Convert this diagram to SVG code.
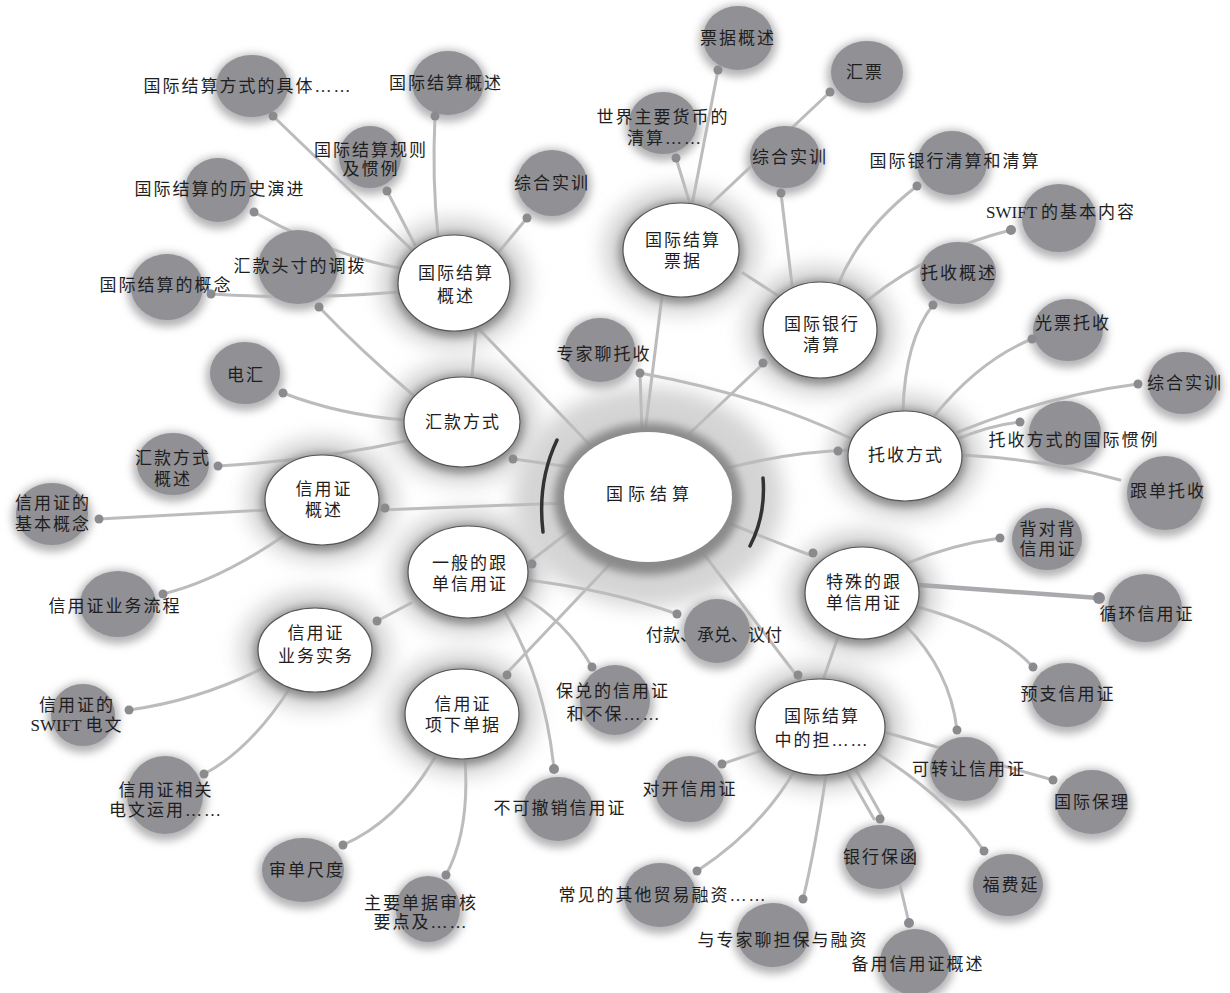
<svg xmlns="http://www.w3.org/2000/svg" width="1230" height="993" viewBox="0 0 1230 993">
<defs>
<filter id="b4" x="-50%" y="-50%" width="200%" height="200%"><feGaussianBlur stdDeviation="4"/></filter>
<filter id="b10" x="-50%" y="-50%" width="200%" height="200%"><feGaussianBlur stdDeviation="10"/></filter>
</defs>
<style>
.ln{stroke:#bcbcbc;stroke-width:3;fill:none;stroke-linecap:round}
.dot{fill:#8b8b8f}
.leaf{fill:#909095}
.lsh{fill:#b4b4b6;filter:url(#b4)}
.halo{fill:#d4d4d4;filter:url(#b10)}
.ring{fill:#8a8a8a;filter:url(#b4)}
.wn{fill:#fff;stroke:#555;stroke-width:1.2}
.t{font-family:"Liberation Serif","Noto Sans CJK SC",serif;font-size:17px;fill:#1e1e1e;text-anchor:middle;letter-spacing:2px}
.tc{font-family:"Liberation Serif","Noto Sans CJK SC",serif;font-size:17px;fill:#1e1e1e;text-anchor:middle;letter-spacing:5px}
.lat{letter-spacing:0}
</style>
<rect width="1230" height="993" fill="#fff"/>

<g id="halos">
<ellipse class="halo" cx="648" cy="497" rx="135" ry="110"/>
<ellipse class="halo" cx="454" cy="283" rx="75" ry="65"/>
<ellipse class="halo" cx="681" cy="250" rx="78" ry="64"/>
<ellipse class="halo" cx="820" cy="330" rx="76" ry="65"/>
<ellipse class="halo" cx="905" cy="456" rx="76" ry="62"/>
<ellipse class="halo" cx="862" cy="593" rx="76" ry="63"/>
<ellipse class="halo" cx="820" cy="727" rx="84" ry="64"/>
<ellipse class="halo" cx="462" cy="714" rx="76" ry="62"/>
<ellipse class="halo" cx="315" cy="650" rx="76" ry="60"/>
<ellipse class="halo" cx="468" cy="572" rx="78" ry="63"/>
<ellipse class="halo" cx="322" cy="500" rx="76" ry="62"/>
<ellipse class="halo" cx="462" cy="422" rx="76" ry="62"/>
</g>

<g id="connectors">
<path class="ln" d="M590,445 L478,328"/>
<path class="ln" d="M645,432 L662,296"/>
<path class="ln" d="M690,433 L765,362"/>
<path class="ln" d="M728,468 Q790,452 850,450"/>
<path class="ln" d="M726,522 Q770,540 810,555"/>
<path class="ln" d="M703,553 L800,680"/>
<path class="ln" d="M612,562 L505,675"/>
<path class="ln" d="M575,527 L528,563"/>
<path class="ln" d="M565,503 L380,510"/>
<path class="ln" d="M577,468 L514,459"/>
<path class="ln" d="M640,373 L642,432"/>
<path class="ln" d="M640,373 Q760,395 850,438"/>
<path class="ln" d="M273,116 L412,250"/>
<path class="ln" d="M387,191 L415,245"/>
<path class="ln" d="M435,116 Q432,180 438,236"/>
<path class="ln" d="M527,218 L498,253"/>
<path class="ln" d="M254,212 Q330,255 399,268"/>
<path class="ln" d="M211,294 Q300,300 399,292"/>
<path class="ln" d="M476,330 L472,377"/>
<path class="ln" d="M319,307 Q360,350 413,395"/>
<path class="ln" d="M718,70 L692,205"/>
<path class="ln" d="M676,158 L690,204"/>
<path class="ln" d="M830,92 L710,205"/>
<path class="ln" d="M743,273 L780,297"/>
<path class="ln" d="M781,193 L792,285"/>
<path class="ln" d="M917,186 Q860,230 838,285"/>
<path class="ln" d="M1011,230 Q930,250 868,300"/>
<path class="ln" d="M933,305 Q905,340 903,411"/>
<path class="ln" d="M935,415 Q980,360 1032,339"/>
<path class="ln" d="M958,432 Q1050,395 1138,384"/>
<path class="ln" d="M955,440 Q990,425 1020,422"/>
<path class="ln" d="M962,455 Q1050,460 1120,480"/>
<path class="ln" d="M908,563 Q950,545 1000,538"/>
<path d="M919,585 L1099,598" stroke="#a9a9ae" stroke-width="4.5" fill="none"/>
<path class="ln" d="M918,607 Q1000,630 1033,667"/>
<path class="ln" d="M905,625 Q950,670 957,730"/>
<path class="ln" d="M838,637 L823,680"/>
<path class="ln" d="M884,732 L1053,780"/>
<path class="ln" d="M875,752 Q950,800 984,851"/>
<path class="ln" d="M846,770 L874,819"/>
<path class="ln" d="M855,768 L883,818"/>
<path class="ln" d="M826,775 Q815,850 803,899"/>
<path class="ln" d="M795,770 Q760,830 697,871"/>
<path class="ln" d="M778,745 L722,764"/>
<path class="ln" d="M900,885 L909,923"/>
<path class="ln" d="M527,580 Q610,590 677,614"/>
<path class="ln" d="M520,595 Q565,620 592,667"/>
<path class="ln" d="M505,612 Q545,680 554,769"/>
<path class="ln" d="M377,621 L411,603"/>
<path class="ln" d="M438,752 Q400,820 343,845"/>
<path class="ln" d="M465,760 Q470,830 446,875"/>
<path class="ln" d="M263,668 Q200,700 129,710"/>
<path class="ln" d="M290,688 Q250,750 204,774"/>
<path class="ln" d="M285,535 Q220,580 163,594"/>
<path class="ln" d="M99,519 L267,510"/>
<path class="ln" d="M218,466 Q320,460 410,440"/>
<path class="ln" d="M283,393 Q340,415 405,420"/>
</g>

<g id="center-node">
<ellipse class="ring" cx="648" cy="499" rx="94" ry="76"/>
<path d="M557,440 Q537,482 543,532" stroke="#333" stroke-width="3.5" fill="none" stroke-linecap="round"/>
<path d="M763,478 Q766,515 750,546" stroke="#333" stroke-width="3.5" fill="none" stroke-linecap="round"/>
<ellipse cx="648" cy="497" rx="84" ry="65" fill="#fff"/>
<text class="tc" x="650" y="500">国际结算</text>
</g>

<g id="n-gjjsgs"><ellipse class="ring" cx="454" cy="285" rx="60" ry="52"/><ellipse class="wn" cx="454" cy="283" rx="56" ry="48"/><text class="t" x="456" y="279">国际结算</text><text class="t" x="456" y="302">概述</text></g>
<g id="n-gjjspj"><ellipse class="ring" cx="681" cy="252" rx="62" ry="51"/><ellipse class="wn" cx="681" cy="250" rx="58" ry="47"/><text class="t" x="683" y="246">国际结算</text><text class="t" x="683" y="267">票据</text></g>
<g id="n-gjyhqs"><ellipse class="ring" cx="820" cy="332" rx="61" ry="52"/><ellipse class="wn" cx="820" cy="330" rx="57" ry="48"/><text class="t" x="822" y="330">国际银行</text><text class="t" x="822" y="351">清算</text></g>
<g id="n-tsfs"><ellipse class="ring" cx="905" cy="458" rx="61" ry="49"/><ellipse class="wn" cx="905" cy="456" rx="57" ry="45"/><text class="t" x="906" y="461">托收方式</text></g>
<g id="n-tsdgd"><ellipse class="ring" cx="862" cy="595" rx="61" ry="50"/><ellipse class="wn" cx="862" cy="593" rx="57" ry="46"/><text class="t" x="864" y="588">特殊的跟</text><text class="t" x="864" y="609">单信用证</text></g>
<g id="n-dbz"><ellipse class="ring" cx="820" cy="729" rx="68" ry="52"/><ellipse class="wn" cx="820" cy="727" rx="65" ry="48"/><text class="t" x="822" y="722">国际结算</text><text class="t" x="822" y="746">中的担……</text></g>
<g id="n-xxdj"><ellipse class="ring" cx="462" cy="716" rx="61" ry="49"/><ellipse class="wn" cx="462" cy="714" rx="57" ry="45"/><text class="t" x="463" y="710">信用证</text><text class="t" x="463" y="731">项下单据</text></g>
<g id="n-ywsw"><ellipse class="ring" cx="315" cy="652" rx="61" ry="46"/><ellipse class="wn" cx="315" cy="650" rx="57" ry="42"/><text class="t" x="316" y="639">信用证</text><text class="t" x="316" y="662">业务实务</text></g>
<g id="n-ybgd"><ellipse class="ring" cx="468" cy="574" rx="64" ry="50"/><ellipse class="wn" cx="468" cy="572" rx="60" ry="46"/><text class="t" x="470" y="569">一般的跟</text><text class="t" x="470" y="590">单信用证</text></g>
<g id="n-xyzgs"><ellipse class="ring" cx="322" cy="502" rx="61" ry="49"/><ellipse class="wn" cx="322" cy="500" rx="57" ry="45"/><text class="t" x="324" y="495">信用证</text><text class="t" x="324" y="516">概述</text></g>
<g id="n-hkfs"><ellipse class="ring" cx="462" cy="424" rx="62" ry="49"/><ellipse class="wn" cx="462" cy="422" rx="58" ry="45"/><text class="t" x="463" y="428">汇款方式</text></g>

<g id="leaf-1"><ellipse class="lsh" cx="252" cy="89" rx="40" ry="35"/><ellipse class="leaf" cx="252" cy="86" rx="36" ry="31"/><text class="t" x="248" y="92">国际结算方式的具体……</text></g>
<g id="leaf-2"><ellipse class="lsh" cx="370" cy="160" rx="35" ry="35"/><ellipse class="leaf" cx="370" cy="157" rx="31" ry="31"/><text class="t" x="371" y="156">国际结算规则</text><text class="t" x="371" y="175">及惯例</text></g>
<g id="leaf-3"><ellipse class="lsh" cx="218" cy="193" rx="36" ry="36"/><ellipse class="leaf" cx="218" cy="190" rx="33" ry="32"/><text class="t" x="220" y="195">国际结算的历史演进</text></g>
<g id="leaf-4"><ellipse class="lsh" cx="298" cy="270" rx="44" ry="41"/><ellipse class="leaf" cx="298" cy="267" rx="40" ry="37"/><text class="t" x="300" y="272">汇款头寸的调拨</text></g>
<g id="leaf-5"><ellipse class="lsh" cx="167" cy="290" rx="40" ry="37"/><ellipse class="leaf" cx="167" cy="287" rx="36" ry="33"/><text class="t" x="166" y="291">国际结算的概念</text></g>
<g id="leaf-6"><ellipse class="lsh" cx="448" cy="86" rx="40" ry="36"/><ellipse class="leaf" cx="448" cy="83" rx="36" ry="32"/><text class="t" x="446" y="89">国际结算概述</text></g>
<g id="leaf-7"><ellipse class="lsh" cx="738" cy="41" rx="39" ry="36"/><ellipse class="leaf" cx="738" cy="38" rx="35" ry="32"/><text class="t" x="738" y="44">票据概述</text></g>
<g id="leaf-8"><ellipse class="lsh" cx="663" cy="126" rx="38" ry="35"/><ellipse class="leaf" cx="663" cy="123" rx="34" ry="31"/><text class="t" x="663" y="123">世界主要货币的</text><text class="t" x="665" y="144">清算……</text></g>
<g id="leaf-9"><ellipse class="lsh" cx="785" cy="160" rx="39" ry="35"/><ellipse class="leaf" cx="785" cy="157" rx="35" ry="31"/><text class="t" x="790" y="163">综合实训</text></g>
<g id="leaf-10"><ellipse class="lsh" cx="867" cy="75" rx="40" ry="35"/><ellipse class="leaf" cx="867" cy="72" rx="36" ry="31"/><text class="t" x="865" y="78">汇票</text></g>
<g id="leaf-11"><ellipse class="lsh" cx="552" cy="186" rx="39" ry="37"/><ellipse class="leaf" cx="552" cy="183" rx="35" ry="33"/><text class="t" x="552" y="189">综合实训</text></g>
<g id="leaf-12"><ellipse class="lsh" cx="952" cy="166" rx="39" ry="36"/><ellipse class="leaf" cx="952" cy="163" rx="35" ry="32"/><text class="t" x="955" y="167">国际银行清算和清算</text></g>
<g id="leaf-13"><ellipse class="lsh" cx="1059" cy="221" rx="41" ry="38"/><ellipse class="leaf" cx="1059" cy="218" rx="37" ry="34"/><text class="t" x="1061" y="218"><tspan class="lat">SWIFT </tspan>的基本内容</text></g>
<g id="leaf-14"><ellipse class="lsh" cx="958" cy="276" rx="42" ry="35"/><ellipse class="leaf" cx="958" cy="273" rx="38" ry="31"/><text class="t" x="959" y="279">托收概述</text></g>
<g id="leaf-15"><ellipse class="lsh" cx="1068" cy="333" rx="39" ry="35"/><ellipse class="leaf" cx="1068" cy="330" rx="35" ry="31"/><text class="t" x="1073" y="329">光票托收</text></g>
<g id="leaf-16"><ellipse class="lsh" cx="1183" cy="386" rx="39" ry="35"/><ellipse class="leaf" cx="1183" cy="383" rx="35" ry="31"/><text class="t" x="1185" y="389">综合实训</text></g>
<g id="leaf-17"><ellipse class="lsh" cx="1065" cy="436" rx="40" ry="36"/><ellipse class="leaf" cx="1065" cy="433" rx="36" ry="32"/><text class="t" x="1074" y="446">托收方式的国际惯例</text></g>
<g id="leaf-18"><ellipse class="lsh" cx="1165" cy="496" rx="42" ry="41"/><ellipse class="leaf" cx="1165" cy="493" rx="38" ry="37"/><text class="t" x="1168" y="497">跟单托收</text></g>
<g id="leaf-19"><ellipse class="lsh" cx="1047" cy="542" rx="39" ry="35"/><ellipse class="leaf" cx="1047" cy="539" rx="35" ry="31"/><text class="t" x="1048" y="535">背对背</text><text class="t" x="1048" y="555">信用证</text></g>
<g id="leaf-20"><ellipse class="lsh" cx="1145" cy="611" rx="41" ry="38"/><ellipse class="leaf" cx="1145" cy="608" rx="37" ry="34"/><text class="t" x="1147" y="620">循环信用证</text></g>
<g id="leaf-21"><ellipse class="lsh" cx="1067" cy="698" rx="40" ry="36"/><ellipse class="leaf" cx="1067" cy="695" rx="36" ry="32"/><text class="t" x="1068" y="700">预支信用证</text></g>
<g id="leaf-22"><ellipse class="lsh" cx="965" cy="772" rx="39" ry="36"/><ellipse class="leaf" cx="965" cy="769" rx="35" ry="32"/><text class="t" x="969" y="775">可转让信用证</text></g>
<g id="leaf-23"><ellipse class="lsh" cx="1092" cy="805" rx="40" ry="36"/><ellipse class="leaf" cx="1092" cy="802" rx="36" ry="32"/><text class="t" x="1092" y="808">国际保理</text></g>
<g id="leaf-24"><ellipse class="lsh" cx="1008" cy="888" rx="39" ry="35"/><ellipse class="leaf" cx="1008" cy="885" rx="35" ry="31"/><text class="t" x="1011" y="891">福费延</text></g>
<g id="leaf-25"><ellipse class="lsh" cx="880" cy="860" rx="40" ry="36"/><ellipse class="leaf" cx="880" cy="857" rx="36" ry="32"/><text class="t" x="881" y="863">银行保函</text></g>
<g id="leaf-26"><ellipse class="lsh" cx="915" cy="965" rx="39" ry="37"/><ellipse class="leaf" cx="915" cy="962" rx="35" ry="33"/><text class="t" x="918" y="970">备用信用证概述</text></g>
<g id="leaf-27"><ellipse class="lsh" cx="773" cy="938" rx="40" ry="36"/><ellipse class="leaf" cx="773" cy="935" rx="36" ry="32"/><text class="t" x="783" y="946">与专家聊担保与融资</text></g>
<g id="leaf-28"><ellipse class="lsh" cx="660" cy="898" rx="40" ry="36"/><ellipse class="leaf" cx="660" cy="895" rx="36" ry="32"/><text class="t" x="663" y="901">常见的其他贸易融资……</text></g>
<g id="leaf-29"><ellipse class="lsh" cx="690" cy="792" rx="39" ry="37"/><ellipse class="leaf" cx="690" cy="789" rx="35" ry="33"/><text class="t" x="690" y="795">对开信用证</text></g>
<g id="leaf-30"><ellipse class="lsh" cx="558" cy="812" rx="39" ry="36"/><ellipse class="leaf" cx="558" cy="809" rx="35" ry="32"/><text class="t" x="560" y="814">不可撤销信用证</text></g>
<g id="leaf-31"><ellipse class="lsh" cx="615" cy="703" rx="39" ry="39"/><ellipse class="leaf" cx="615" cy="700" rx="35" ry="35"/><text class="t" x="613" y="697">保兑的信用证</text><text class="t" x="614" y="720">和不保……</text></g>
<g id="leaf-32"><ellipse class="lsh" cx="717" cy="634" rx="37" ry="36"/><ellipse class="leaf" cx="717" cy="631" rx="33" ry="32"/><text class="t lat" x="714" y="641">付款、承兑、议付</text></g>
<g id="leaf-33"><ellipse class="lsh" cx="600" cy="353" rx="39" ry="36"/><ellipse class="leaf" cx="600" cy="350" rx="35" ry="32"/><text class="t" x="604" y="360">专家聊托收</text></g>
<g id="leaf-34"><ellipse class="lsh" cx="245" cy="376" rx="39" ry="35"/><ellipse class="leaf" cx="245" cy="373" rx="35" ry="31"/><text class="t" x="246" y="381">电汇</text></g>
<g id="leaf-35"><ellipse class="lsh" cx="173" cy="467" rx="40" ry="35"/><ellipse class="leaf" cx="173" cy="464" rx="36" ry="31"/><text class="t" x="173" y="464">汇款方式</text><text class="t" x="173" y="485">概述</text></g>
<g id="leaf-36"><ellipse class="lsh" cx="52" cy="517" rx="40" ry="35"/><ellipse class="leaf" cx="52" cy="514" rx="36" ry="31"/><text class="t" x="53" y="509">信用证的</text><text class="t" x="53" y="530">基本概念</text></g>
<g id="leaf-37"><ellipse class="lsh" cx="118" cy="607" rx="42" ry="37"/><ellipse class="leaf" cx="118" cy="604" rx="38" ry="33"/><text class="t" x="115" y="612">信用证业务流程</text></g>
<g id="leaf-38"><ellipse class="lsh" cx="83" cy="718" rx="36" ry="35"/><ellipse class="leaf" cx="83" cy="715" rx="32" ry="31"/><text class="t" x="77" y="711">信用证的</text><text class="t" x="77" y="731"><tspan class="lat">SWIFT </tspan>电文</text></g>
<g id="leaf-39"><ellipse class="lsh" cx="165" cy="798" rx="42" ry="43"/><ellipse class="leaf" cx="165" cy="795" rx="38" ry="39"/><text class="t" x="166" y="796">信用证相关</text><text class="t" x="166" y="816">电文运用……</text></g>
<g id="leaf-40"><ellipse class="lsh" cx="303" cy="873" rx="45" ry="36"/><ellipse class="leaf" cx="303" cy="870" rx="41" ry="32"/><text class="t" x="307" y="876">审单尺度</text></g>
<g id="leaf-41"><ellipse class="lsh" cx="428" cy="912" rx="36" ry="37"/><ellipse class="leaf" cx="428" cy="909" rx="32" ry="33"/><text class="t" x="421" y="909">主要单据审核</text><text class="t" x="421" y="928">要点及……</text></g>

<g id="connector-ends">
<circle class="dot" cx="273" cy="116" r="4.5"/><circle class="dot" cx="387" cy="191" r="4.5"/><circle class="dot" cx="254" cy="212" r="4.5"/><circle class="dot" cx="319" cy="307" r="4.5"/><circle class="dot" cx="211" cy="294" r="4.5"/><circle class="dot" cx="435" cy="116" r="4.5"/><circle class="dot" cx="718" cy="70" r="4.5"/><circle class="dot" cx="676" cy="158" r="4.5"/><circle class="dot" cx="781" cy="193" r="4.5"/><circle class="dot" cx="830" cy="92" r="4.5"/><circle class="dot" cx="527" cy="218" r="4.5"/><circle class="dot" cx="917" cy="186" r="4.5"/><circle class="dot" cx="1011" cy="230" r="5"/><circle class="dot" cx="933" cy="305" r="4.5"/><circle class="dot" cx="1032" cy="339" r="4.5"/><circle class="dot" cx="1138" cy="384" r="4.5"/><circle class="dot" cx="1020" cy="422" r="4.5"/><circle class="dot" cx="1000" cy="538" r="4.5"/><circle class="dot" cx="1099" cy="598" r="6"/><circle class="dot" cx="1033" cy="667" r="4.5"/><circle class="dot" cx="957" cy="730" r="4.5"/><circle class="dot" cx="1053" cy="780" r="4.5"/><circle class="dot" cx="984" cy="851" r="4.5"/><circle class="dot" cx="880" cy="819" r="4.5"/><circle class="dot" cx="909" cy="923" r="5"/><circle class="dot" cx="803" cy="899" r="4.5"/><circle class="dot" cx="697" cy="871" r="4.5"/><circle class="dot" cx="722" cy="764" r="4.5"/><circle class="dot" cx="554" cy="769" r="5"/><circle class="dot" cx="592" cy="667" r="4.5"/><circle class="dot" cx="677" cy="614" r="4.5"/><circle class="dot" cx="640" cy="373" r="4.5"/><circle class="dot" cx="283" cy="393" r="4.5"/><circle class="dot" cx="218" cy="466" r="4.5"/><circle class="dot" cx="99" cy="519" r="4.5"/><circle class="dot" cx="163" cy="594" r="4.5"/><circle class="dot" cx="129" cy="710" r="4.5"/><circle class="dot" cx="204" cy="774" r="4.5"/><circle class="dot" cx="343" cy="845" r="4.5"/><circle class="dot" cx="446" cy="875" r="4.5"/><circle class="dot" cx="377" cy="621" r="4.5"/>
<circle class="dot" cx="513" cy="459" r="4.5"/><circle class="dot" cx="385" cy="508" r="4.5"/><circle class="dot" cx="532" cy="564" r="4.5"/><circle class="dot" cx="763" cy="363" r="4.5"/><circle class="dot" cx="838" cy="451" r="4.5"/><circle class="dot" cx="813" cy="553" r="4.5"/><circle class="dot" cx="798" cy="675" r="4.5"/><circle class="dot" cx="507" cy="675" r="4.5"/>
</g>
</svg>
